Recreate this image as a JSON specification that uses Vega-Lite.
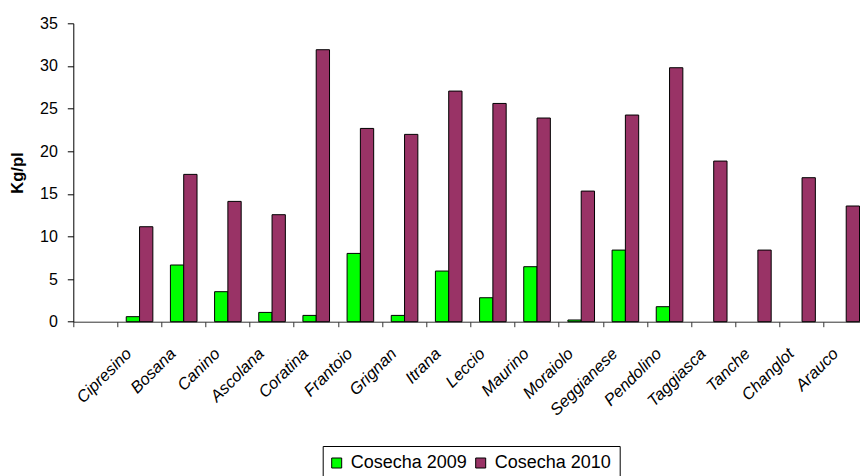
{
  "$schema": "https://vega.github.io/schema/vega-lite/v6.json",
  "autosize": "none",
  "padding": {"left": 73.3, "top": 23.3, "right": 0, "bottom": 154.3},
  "width": 786.7,
  "height": 298.4,
  "background": "white",
  "config": {
    "view": {"stroke": null},
    "font": "Liberation Sans",
    "axis": {"grid": false, "labelFont": "Liberation Sans", "titleFont": "Liberation Sans"}
  },
  "data": {
    "values": [
      {"variedad": "Cipresino", "serie": "Cosecha 2009", "kg": 0.59},
      {"variedad": "Cipresino", "serie": "Cosecha 2010", "kg": 11.14},
      {"variedad": "Bosana", "serie": "Cosecha 2009", "kg": 6.65},
      {"variedad": "Bosana", "serie": "Cosecha 2010", "kg": 17.28},
      {"variedad": "Canino", "serie": "Cosecha 2009", "kg": 3.52},
      {"variedad": "Canino", "serie": "Cosecha 2010", "kg": 14.11},
      {"variedad": "Ascolana", "serie": "Cosecha 2009", "kg": 1.09},
      {"variedad": "Ascolana", "serie": "Cosecha 2010", "kg": 12.55},
      {"variedad": "Coratina", "serie": "Cosecha 2009", "kg": 0.74},
      {"variedad": "Coratina", "serie": "Cosecha 2010", "kg": 31.9},
      {"variedad": "Frantoio", "serie": "Cosecha 2009", "kg": 8.01},
      {"variedad": "Frantoio", "serie": "Cosecha 2010", "kg": 22.67},
      {"variedad": "Grignan", "serie": "Cosecha 2009", "kg": 0.74},
      {"variedad": "Grignan", "serie": "Cosecha 2010", "kg": 21.97},
      {"variedad": "Itrana", "serie": "Cosecha 2009", "kg": 5.94},
      {"variedad": "Itrana", "serie": "Cosecha 2010", "kg": 27.05},
      {"variedad": "Leccio", "serie": "Cosecha 2009", "kg": 2.81},
      {"variedad": "Leccio", "serie": "Cosecha 2010", "kg": 25.6},
      {"variedad": "Maurino", "serie": "Cosecha 2009", "kg": 6.45},
      {"variedad": "Maurino", "serie": "Cosecha 2010", "kg": 23.89},
      {"variedad": "Moraiolo", "serie": "Cosecha 2009", "kg": 0.2},
      {"variedad": "Moraiolo", "serie": "Cosecha 2010", "kg": 15.32},
      {"variedad": "Seggianese", "serie": "Cosecha 2009", "kg": 8.4},
      {"variedad": "Seggianese", "serie": "Cosecha 2010", "kg": 24.24},
      {"variedad": "Pendolino", "serie": "Cosecha 2009", "kg": 1.76},
      {"variedad": "Pendolino", "serie": "Cosecha 2010", "kg": 29.79},
      {"variedad": "Taggiasca", "serie": "Cosecha 2010", "kg": 18.84},
      {"variedad": "Tanche", "serie": "Cosecha 2010", "kg": 8.4},
      {"variedad": "Changlot", "serie": "Cosecha 2010", "kg": 16.89},
      {"variedad": "Arauco", "serie": "Cosecha 2010", "kg": 13.57}
    ]
  },
  "mark": {"type": "bar", "stroke": "black", "strokeWidth": 1},
  "encoding": {
    "x": {
      "field": "variedad",
      "type": "nominal",
      "sort": null,
      "scale": {
        "domain": ["", "Cipresino", "Bosana", "Canino", "Ascolana", "Coratina", "Frantoio", "Grignan", "Itrana", "Leccio", "Maurino", "Moraiolo", "Seggianese", "Pendolino", "Taggiasca", "Tanche", "Changlot", "Arauco"],
        "range": [0, 795],
        "paddingInner": 0,
        "paddingOuter": 0
      },
      "axis": {
        "title": null,
        "bandPosition": 0,
        "domainColor": "#333333",
        "tickColor": "#333333",
        "tickSize": 5,
        "labelAngle": -45,
        "labelAlign": "right",
        "labelBaseline": "middle",
        "labelOffset": -10.5,
        "labelPadding": 24,
        "labelFontSize": 16.5,
        "labelFontStyle": "italic",
        "labelColor": "black",
        "labelOverlap": false,
        "labelFlush": false,
        "labelBound": false
      }
    },
    "xOffset": {
      "field": "serie",
      "type": "nominal",
      "scale": {"paddingInner": 0, "paddingOuter": 0.66}
    },
    "y": {
      "field": "kg",
      "type": "quantitative",
      "scale": {"domain": [0, 35], "nice": false},
      "axis": {
        "title": "Kg/pl",
        "titleFontSize": 16.5,
        "titleFontWeight": "bold",
        "titleColor": "black",
        "titleAngle": -90,
        "titleAlign": "center",
        "titleBaseline": "middle",
        "titleX": -56,
        "titleY": 149.2,
        "values": [0, 5, 10, 15, 20, 25, 30, 35],
        "domainColor": "black",
        "tickColor": "black",
        "tickSize": 6,
        "labelPadding": 10,
        "labelFontSize": 16,
        "labelColor": "black"
      }
    },
    "color": {
      "field": "serie",
      "type": "nominal",
      "scale": {"domain": ["Cosecha 2009", "Cosecha 2010"], "range": ["#00FF00", "#993366"]},
      "legend": {
        "title": null,
        "orient": "none",
        "legendX": 249.4,
        "legendY": 422.7,
        "direction": "horizontal",
        "strokeColor": "black",
        "fillColor": "white",
        "padding": 8,
        "symbolType": "square",
        "symbolSize": 100,
        "symbolOffset": -3,
        "symbolStrokeColor": "black",
        "symbolStrokeWidth": 1,
        "symbolOpacity": 1,
        "labelFont": "Liberation Sans",
        "labelFontSize": 18,
        "labelColor": "black",
        "labelOffset": 5,
        "columnPadding": 6,
        "labelLimit": 300
      }
    }
  }
}
